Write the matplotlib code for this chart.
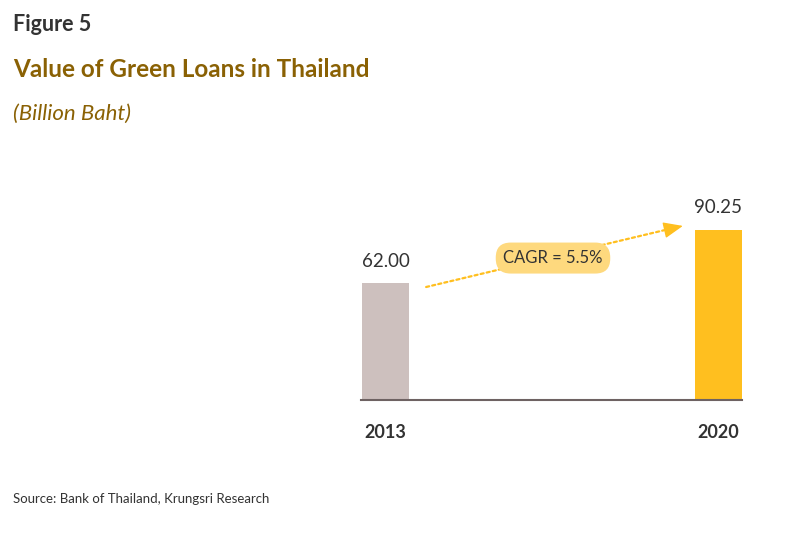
import matplotlib.pyplot as plt

years = ['2013', '2020']
values = [62.00, 90.25]
value_labels = ['62.00', '90.25']
bar_colors = ['#CDC0BE', '#FFBF1F']
cagr_text = 'CAGR = 5.5%'

plt.rcParams['font.family'] = ['Lato', 'DejaVu Sans']

fig = plt.figure(figsize=(8, 5.33), dpi=100)
# axes placed so the chart sits in the lower right like the original
ax = fig.add_axes([361 / 800, (533 - 400) / 533, 381 / 800, 188 / 533])

x = [0, 1]
bars = ax.bar(x, values, width=0.141, color=bar_colors)
ax.bar_label(bars, labels=value_labels, padding=10, fontsize=13.5, color='#333333')

ax.set_xlim(-0.0736, 1.0706)
ax.set_ylim(0, 100)
ax.set_xticks(x)
ax.set_xticklabels(years, fontsize=13, fontweight='bold', color='#333333')
ax.tick_params(axis='x', length=0, pad=17)
ax.set_yticks([])
for s in ['top', 'left', 'right']:
    ax.spines[s].set_visible(False)
ax.spines['bottom'].set_color('#6E6262')
ax.spines['bottom'].set_linewidth(1.5)

# dotted growth arrow: dotted shaft + solid head
start, neck, tip = (0.122, 60.1), (0.8496, 90.85), (0.893, 92.6)
ax.annotate('', xy=neck, xytext=start,
            arrowprops=dict(arrowstyle='-', color='#FFBF1F', lw=1.6,
                            linestyle=(0, (1.4, 1.4)), shrinkA=0, shrinkB=0))
ax.annotate('', xy=tip, xytext=neck,
            arrowprops=dict(arrowstyle='-|>,head_length=1.2,head_width=0.5',
                            color='#FFBF1F', lw=1.0, shrinkA=0, shrinkB=0))
ax.text(0.503, 75.5, cagr_text, ha='center', va='center', fontsize=12,
        color='#333333',
        bbox=dict(boxstyle='round,pad=0.45,rounding_size=0.9',
                  fc='#FED97E', ec='none'))

fig.text(13 / 800, 1 - 31 / 533, 'Figure 5', fontsize=15.5, fontweight='bold',
         color='#333333', va='baseline')
fig.text(13 / 800, 1 - 77 / 533, 'Value of Green Loans in Thailand',
         fontsize=17.5, fontweight='bold', color='#8A6104', va='baseline')
fig.text(13 / 800, 1 - 120 / 533, '(Billion Baht)', fontsize=16,
         fontstyle='italic', color='#8A6104', va='baseline')
fig.text(13 / 800, 1 - 503 / 533, 'Source: Bank of Thailand, Krungsri Research',
         fontsize=9.5, color='#333333', va='baseline')

fig.savefig('out.png', dpi=100)
